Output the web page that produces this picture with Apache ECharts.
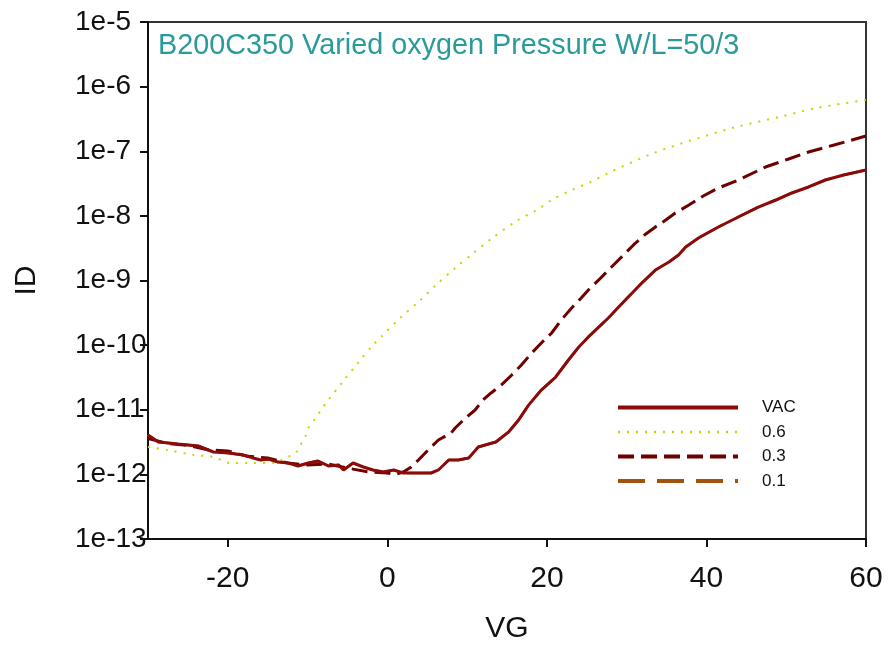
<!DOCTYPE html>
<html>
<head>
<meta charset="utf-8">
<script src="https://cdn.jsdelivr.net/npm/echarts@6/dist/echarts.min.js"></script>
<style>html,body{margin:0;padding:0;background:#fff;}#c{width:888px;height:651px;}</style>
</head>
<body>
<div id="c"></div>
<script>
// ---- data ----
const titleText = 'B200C350 Varied oxygen Pressure W/L=50/3';
const seriesNames = ['VAC', '0.6', '0.3', '0.1'];
const xTickValues = [-20, 0, 20, 40, 60];

const vgVAC = [-30, -28.7, -26.2, -23.7, -21.8, -19.9, -18.1, -16.8, -15.9, -14.9, -13.7, -12.4, -11.2, -9.9, -8.7, -7.4, -6.1, -5.5, -4.3, -3.0, -1.8, -0.5, 0.8, 2.0, 3.3, 4.5, 5.5, 6.4, 7.7, 8.9, 10.2, 11.4, 12.7, 13.6, 15.2, 16.4, 17.7, 19.3, 21.1, 22.7, 24.0, 25.2, 26.1, 27.7, 29.0, 30.2, 31.9, 33.6, 35.3, 36.5, 37.4, 39.0, 41.5, 44.0, 46.5, 48.7, 50.7, 52.8, 54.9, 57.2, 60];
const idVAC = [4.06e-12, 3.17e-12, 2.95e-12, 2.75e-12, 2.22e-12, 2.14e-12, 2.0e-12, 1.79e-12, 1.67e-12, 1.73e-12, 1.55e-12, 1.50e-12, 1.35e-12, 1.50e-12, 1.61e-12, 1.35e-12, 1.40e-12, 1.17e-12, 1.50e-12, 1.30e-12, 1.17e-12, 1.09e-12, 1.17e-12, 1.05e-12, 1.05e-12, 1.05e-12, 1.05e-12, 1.17e-12, 1.67e-12, 1.67e-12, 1.79e-12, 2.65e-12, 2.95e-12, 3.17e-12, 4.53e-12, 6.8e-12, 1.18e-11, 2.02e-11, 3.21e-11, 5.89e-11, 9.35e-11, 1.34e-10, 1.71e-10, 2.63e-10, 3.89e-10, 5.56e-10, 9.15e-10, 1.45e-9, 1.93e-9, 2.48e-9, 3.30e-9, 4.55e-9, 6.73e-9, 9.61e-9, 1.37e-8, 1.76e-8, 2.26e-8, 2.80e-8, 3.59e-8, 4.29e-8, 5.13e-8];

const vg06 = [-30, -27.5, -24.3, -21.8, -19.7, -17.2, -14.1, -12.8, -11.5, -10.9, -10.3, -9.9, -9.0, -8.3, -7.4, -5.5, -3.6, -1.8, -0.8, 1.6, 3.9, 6.1, 8.5, 10.8, 13.0, 16.2, 18.7, 20.8, 23.1, 25.5, 27.7, 33.4, 39.0, 43.7, 49.1, 53.8, 60];
const id06 = [2.65e-12, 2.38e-12, 2.0e-12, 1.86e-12, 1.50e-12, 1.50e-12, 1.50e-12, 1.79e-12, 2.14e-12, 2.85e-12, 3.79e-12, 5.22e-12, 7.45e-12, 9.91e-12, 1.42e-11, 2.79e-11, 5.48e-11, 1.00e-10, 1.34e-10, 2.63e-10, 4.65e-10, 8.52e-10, 1.56e-9, 2.67e-9, 4.39e-9, 8.34e-9, 1.23e-8, 1.82e-8, 2.51e-8, 3.34e-8, 4.61e-8, 9.40e-8, 1.60e-7, 2.37e-7, 3.39e-7, 4.67e-7, 6.21e-7];

const vg03 = [-30, -27.5, -25, -22.5, -20, -17.5, -15, -12.5, -10, -7.5, -5, -2.5, 0, 1, 2.0, 3.0, 3.9, 5.1, 6.4, 8.0, 8.5, 9.8, 11.0, 12.0, 13.0, 14.3, 15.6, 16.8, 18.1, 19.3, 20.6, 21.8, 23.1, 24.3, 25.2, 26.5, 28.1, 29.6, 31.1, 32.4, 33.6, 34.9, 36.1, 37.8, 39.6, 41.5, 44.0, 47.4, 50.3, 52.8, 56.0, 59.1, 60];
const id03 = [3.6e-12, 3.0e-12, 2.8e-12, 2.4e-12, 2.3e-12, 1.9e-12, 1.8e-12, 1.5e-12, 1.4e-12, 1.45e-12, 1.25e-12, 1.1e-12, 1.05e-12, 1.0e-12, 1.09e-12, 1.30e-12, 1.67e-12, 2.38e-12, 3.40e-12, 4.37e-12, 5.22e-12, 7.45e-12, 9.91e-12, 1.42e-11, 1.82e-11, 2.42e-11, 3.45e-11, 4.92e-11, 7.55e-11, 1.08e-10, 1.54e-10, 2.45e-10, 3.75e-10, 5.36e-10, 7.13e-10, 1.02e-9, 1.62e-9, 2.48e-9, 3.80e-9, 5.25e-9, 6.73e-9, 8.64e-9, 1.11e-8, 1.47e-8, 2.03e-8, 2.70e-8, 3.59e-8, 5.70e-8, 7.59e-8, 9.73e-8, 1.25e-7, 1.60e-7, 1.72e-7];

// the 0.1 curve is not visible in the reference: it lies under the VAC curve
const vg01 = vgVAC;
const id01 = idVAC;

function pairs(xs, ys) { return xs.map((x, i) => [x, ys[i]]); }

const FONT = 'Liberation Sans';
const legendWidths = { 'VAC': 4, '0.6': 2.5, '0.3': 4, '0.1': 4 };
const chart = echarts.init(document.getElementById('c'), null, { renderer: 'canvas' });
chart.setOption({
  backgroundColor: '#ffffff',
  animation: false,
  title: {
    text: titleText,
    left: 153, top: 27,
    textStyle: { fontFamily: FONT, fontSize: 28.8, fontWeight: 'normal', color: '#2a9a9a' }
  },
  grid: { left: 148, right: 22, top: 22, bottom: 112, show: true, borderColor: '#333', borderWidth: 2, backgroundColor: 'transparent' },
  legend: {
    orient: 'vertical', left: 611, top: 394,
    itemWidth: 120, itemHeight: 18, itemGap: 7.5,
    data: seriesNames.map(n => ({ name: n, lineStyle: { width: legendWidths[n] } })),
    itemStyle: { color: 'rgba(0,0,0,0)', borderColor: 'rgba(0,0,0,0)', borderWidth: 0 },
    textStyle: { fontFamily: FONT, fontSize: 17, color: '#111', padding: [0, 0, 0, 19] }
  },
  xAxis: {
    type: 'value', min: -30, max: 60,
    name: 'VG', nameLocation: 'middle', nameGap: 75,
    nameTextStyle: { fontFamily: FONT, fontSize: 30, color: '#111' },
    axisLine: { show: true, onZero: false, lineStyle: { color: '#111', width: 2 } },
    axisTick: { show: true, length: 8, lineStyle: { color: '#111', width: 2 }, customValues: xTickValues },
    axisLabel: { fontFamily: FONT, fontSize: 30, color: '#111', margin: 25, customValues: xTickValues },
    splitLine: { show: false }
  },
  yAxis: {
    type: 'log', logBase: 10, min: 1e-13, max: 1e-5, interval: 1,
    name: 'ID', nameLocation: 'middle', nameGap: 106, nameRotate: 90,
    nameTextStyle: { fontFamily: FONT, fontSize: 30, color: '#111' },
    axisLine: { show: true, onZero: false, lineStyle: { color: '#111', width: 2 } },
    axisTick: { show: true, length: 8, lineStyle: { color: '#111', width: 2 } },
    axisLabel: {
      fontFamily: FONT, fontSize: 28, color: '#111', margin: 73, align: 'left',
      formatter: v => '1e' + Math.round(Math.log10(v))
    },
    splitLine: { show: false },
    minorTick: { show: false }
  },
  series: [
    { name: '0.1', type: 'line', data: pairs(vg01, id01), showSymbol: false, symbol: 'none', z: 1,
      lineStyle: { color: '#a0520f', width: 2.5, type: [27, 12] }, itemStyle: { color: '#a0520f' } },
    { name: '0.6', type: 'line', data: pairs(vg06, id06), showSymbol: false, symbol: 'none', z: 2, smooth: 0.3,
      lineStyle: { color: '#cdd200', width: 2, type: [2, 7] }, itemStyle: { color: '#cdd200' } },
    { name: '0.3', type: 'line', data: pairs(vg03, id03), showSymbol: false, symbol: 'none', z: 3,
      lineStyle: { color: '#6e0000', width: 3, type: [16, 7] }, itemStyle: { color: '#6e0000' } },
    { name: 'VAC', type: 'line', data: pairs(vgVAC, idVAC), showSymbol: false, symbol: 'none', z: 4,
      lineStyle: { color: '#8b0a0a', width: 3 }, itemStyle: { color: '#8b0a0a' } }
  ]
});
</script>
</body>
</html>
